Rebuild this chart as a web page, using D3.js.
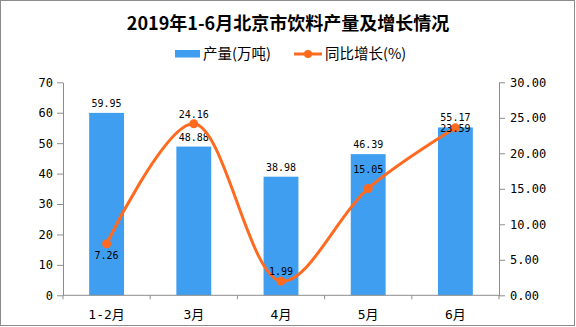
<!DOCTYPE html>
<html><head><meta charset="utf-8">
<script src="https://cdn.jsdelivr.net/npm/d3@7"></script>
<style>
html,body{margin:0;padding:0;background:#fff;}
svg{display:block;}
</style></head>
<body>
<svg id="c" width="576" height="327"></svg>
<script>
const categories = ["1-2月","3月","4月","5月","6月"];
const output = [59.95, 48.88, 38.98, 46.39, 55.17];
const growth = [7.26, 24.16, 1.99, 15.05, 23.59];
const leftTicks = [0,10,20,30,40,50,60,70];
const rightTicks = [0,5,10,15,20,25,30];
const growthLabelDy = [15, -6, -6, -15, 4];

const svg = d3.select("#c");
const W = 576, H = 327;
const m = {l:63, r:499, t:82.3, b:295.3};
const mono = "'DejaVu Sans Mono', monospace";
const cjk = "'Noto Sans CJK SC', 'Noto Sans', sans-serif";
const barColor = "#409EF0", lineColor = "#FF6A21", axisColor = "#8c8c8c";

svg.append("rect").attr("x",0.5).attr("y",0.5).attr("width",574).attr("height",325)
  .attr("fill","#fff").attr("stroke","#8c8c8c").attr("stroke-width",1);

const x = d3.scaleBand().domain(categories).range([m.l, m.r]).paddingInner(0.6).paddingOuter(0.3);
const yL = d3.scaleLinear().domain([0,70]).range([m.b, m.t]);
const yR = d3.scaleLinear().domain([0,30]).range([m.b, m.t]);

// title
svg.append("text").attr("x",288).attr("y",30).attr("text-anchor","middle")
  .attr("font-family",cjk).attr("font-weight","bold").attr("font-size",18).attr("fill","#000")
  .text("2019年1-6月北京市饮料产量及增长情况");

// legend
const lg = svg.append("g");
lg.append("rect").attr("x",175).attr("y",50).attr("width",25).attr("height",7.5).attr("fill",barColor);
lg.append("text").attr("x",203).attr("y",59).attr("font-family",cjk).attr("font-size",14.5).attr("fill","#000").text("产量(万吨)");
lg.append("line").attr("x1",294).attr("x2",322).attr("y1",54).attr("y2",54).attr("stroke",lineColor).attr("stroke-width",3);
lg.append("circle").attr("cx",308).attr("cy",54).attr("r",4).attr("fill",lineColor);
lg.append("text").attr("x",325).attr("y",59).attr("font-family",cjk).attr("font-size",14.5).attr("fill","#000").text("同比增长(%)");

// bars
svg.append("g").selectAll("rect").data(output).join("rect")
  .attr("x",(d,i)=>x(categories[i])).attr("width",x.bandwidth())
  .attr("y",d=>yL(d)).attr("height",d=>m.b-yL(d)).attr("fill",barColor);

// axes
const axL = svg.append("g").attr("transform",`translate(${m.l},0)`)
  .call(d3.axisLeft(yL).tickValues(leftTicks).tickSize(6).tickPadding(4).tickSizeOuter(0));
const axR = svg.append("g").attr("transform",`translate(${m.r},0)`)
  .call(d3.axisRight(yR).tickValues(rightTicks).tickFormat(d3.format(".2f")).tickSize(6).tickPadding(5).tickSizeOuter(0));
[axL, axR].forEach(a=>{
  a.select(".domain").attr("stroke",axisColor);
  a.selectAll(".tick line").attr("stroke",axisColor);
  a.selectAll("text").attr("font-family",mono).attr("font-size",12).attr("fill","#000");
});
// x axis
const xb = svg.append("g").attr("transform",`translate(0,${m.b})`);
xb.append("line").attr("x1",m.l).attr("x2",m.r).attr("stroke",axisColor);
const step = x.step();
const bounds = d3.range(categories.length+1).map(i=>m.l + i*(m.r-m.l)/categories.length);
xb.selectAll("line.tk").data(bounds).join("line").attr("class","tk")
  .attr("x1",d=>d).attr("x2",d=>d).attr("y1",0).attr("y2",4).attr("stroke",axisColor);
xb.selectAll("text").data(categories).join("text")
  .attr("x",d=>x(d)+x.bandwidth()/2).attr("y",24).attr("text-anchor","middle")
  .attr("font-family",`${mono}, ${cjk}`).attr("font-size",13).attr("fill","#000").text(d=>d);

// bar labels
svg.append("g").selectAll("text").data(output).join("text")
  .attr("x",(d,i)=>x(categories[i])+x.bandwidth()/2).attr("y",d=>yL(d)-6)
  .attr("text-anchor","middle").attr("font-family",mono).attr("font-size",10).attr("fill","#000")
  .text(d=>d.toFixed(2));

// line
const cx = (i)=>x(categories[i])+x.bandwidth()/2;
const line = d3.line().x((d,i)=>cx(i)).y(d=>yR(d)).curve(d3.curveCatmullRom.alpha(0.5));
svg.append("path").datum(growth).attr("d",line).attr("fill","none")
  .attr("stroke",lineColor).attr("stroke-width",3);
svg.append("g").selectAll("circle").data(growth).join("circle")
  .attr("cx",(d,i)=>cx(i)).attr("cy",d=>yR(d)).attr("r",4.5).attr("fill",lineColor);
svg.append("g").selectAll("text").data(growth).join("text")
  .attr("x",(d,i)=>cx(i)).attr("y",(d,i)=>yR(d)+growthLabelDy[i])
  .attr("text-anchor","middle").attr("font-family",mono).attr("font-size",10).attr("fill","#000")
  .text(d=>d.toFixed(2));
</script>
</body></html>
